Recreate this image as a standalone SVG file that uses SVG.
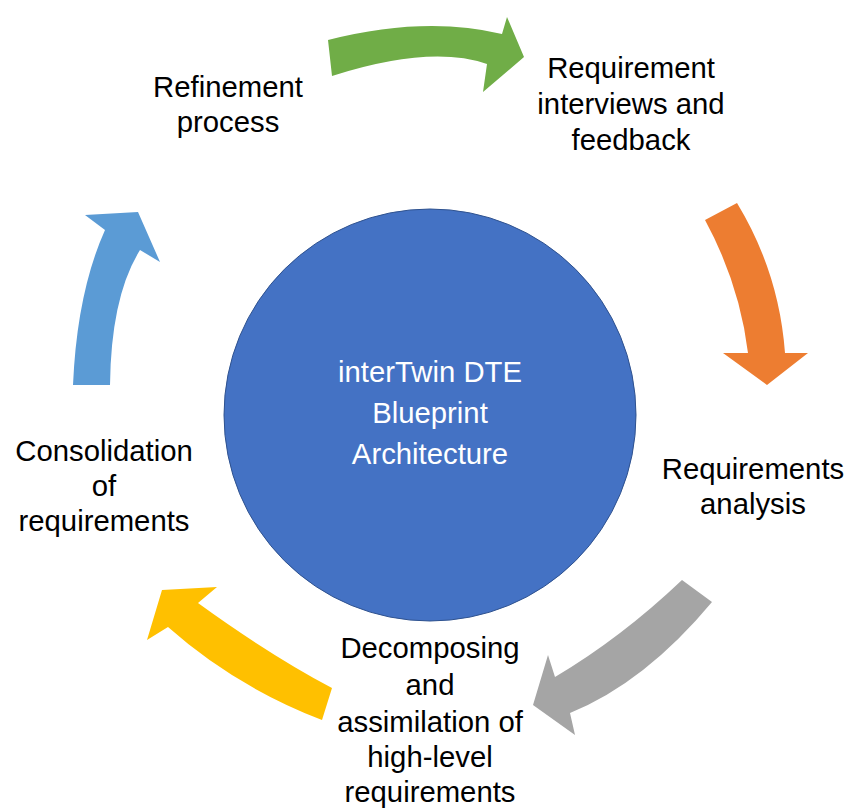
<svg xmlns="http://www.w3.org/2000/svg" width="849" height="812" viewBox="0 0 849 812">
<style>
.t{font-family:"Liberation Sans",Arial,sans-serif;font-size:29.3px;fill:#000;text-anchor:middle}
.w{fill:#fff}
</style>
<rect width="849" height="812" fill="#fff"/>
<g id="connectors">
<path id="arrow-green" fill="#70AD47" d="M328,40 Q425,15.5 502,34 L507,17 L524,57 L483,92 L487,64 Q430.5,44.5 332,76 Z"/>
<path id="arrow-orange" fill="#ED7D31" d="M705,220 Q739.5,283.5 748,353 L723,353 L767,385 L808,353 L785,353 Q779,272 737,203 Z"/>
<path id="arrow-gray" fill="#A5A5A5" d="M682,580 Q621.5,637.5 555,677 L548,655 L533,705 L575,735 L570,713 Q645,682.5 712,602 Z"/>
<path id="arrow-yellow" fill="#FFC000" d="M332,688 Q269,654.5 198,603 L217,587 L162,590 L147,640 L168,627 Q235,686.5 322,720 Z"/>
<path id="arrow-blue" fill="#5B9BD5" d="M73,385 Q77,292.5 105,230 L85,215 L138,212 L160,262 L140,250 Q111,296.5 110,385 Z"/>
</g>
<g id="center">
<circle cx="430" cy="415" r="206" fill="#4472C4" stroke="#2F528F" stroke-width="1"/>
<text class="t w" x="430" y="382">interTwin DTE</text>
<text class="t w" x="430" y="423">Blueprint</text>
<text class="t w" x="430" y="464">Architecture</text>
</g>
<g id="refinement">
<text class="t" x="228" y="97">Refinement</text>
<text class="t" x="228" y="132">process</text>
</g>
<g id="interviews">
<text class="t" x="631" y="78">Requirement</text>
<text class="t" x="631" y="114">interviews and</text>
<text class="t" x="631" y="150">feedback</text>
</g>
<g id="analysis">
<text class="t" x="753" y="479">Requirements</text>
<text class="t" x="753" y="514">analysis</text>
</g>
<g id="decomposing">
<text class="t" x="430" y="658">Decomposing</text>
<text class="t" x="430" y="695">and</text>
<text class="t" x="430" y="732">assimilation of</text>
<text class="t" x="430" y="767">high-level</text>
<text class="t" x="430" y="802">requirements</text>
</g>
<g id="consolidation">
<text class="t" x="104" y="461">Consolidation</text>
<text class="t" x="104" y="496">of</text>
<text class="t" x="104" y="531">requirements</text>
</g>
</svg>
